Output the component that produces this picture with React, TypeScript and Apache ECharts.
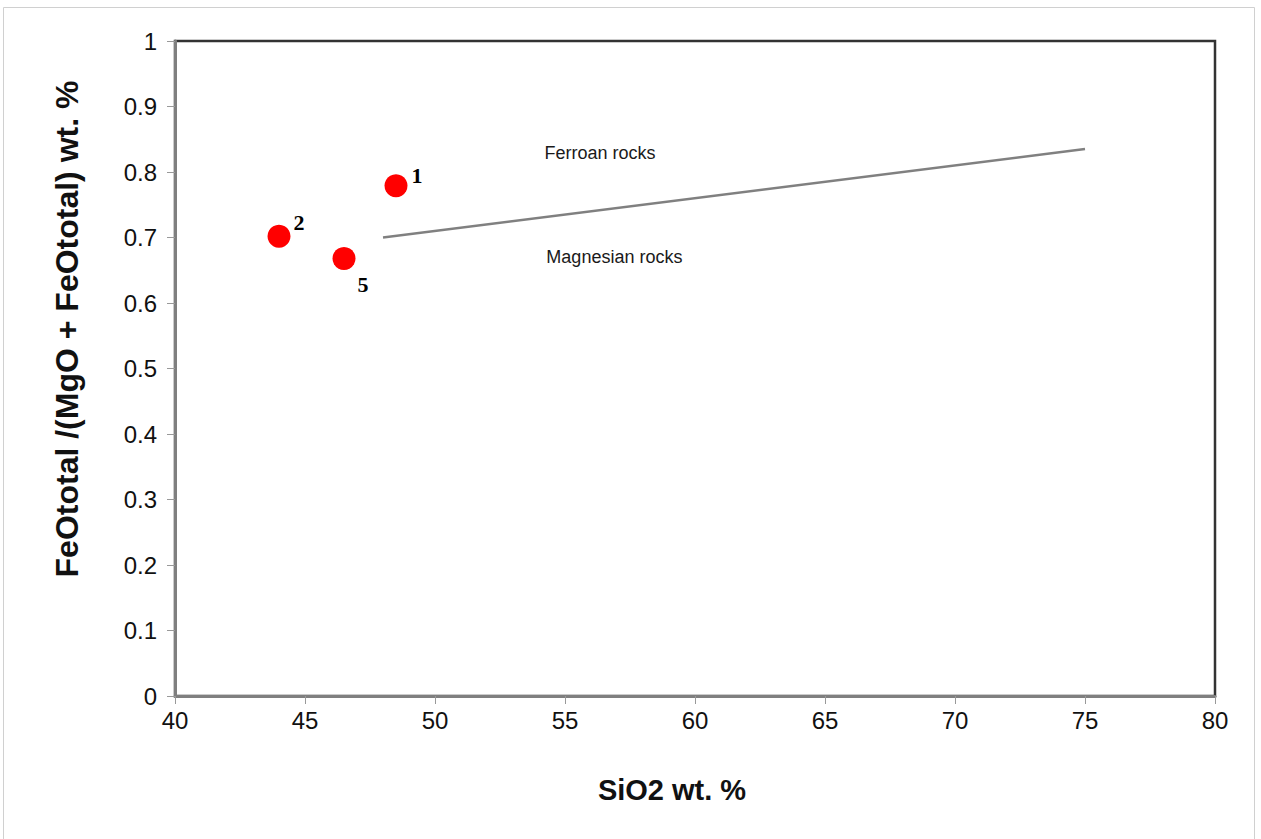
import React, { useEffect, useRef } from "react";
import * as echarts from "echarts";

// Samples: SiO2 wt.% vs FeOtotal/(MgO+FeOtotal)
const sampleNames = ["1", "2", "5"];
const sampleSiO2 = [48.5, 44.0, 46.5];
const sampleFeRatio = [0.779, 0.702, 0.668];

// Ferroan / magnesian boundary
const boundarySiO2 = [48, 75];
const boundaryRatio = [0.7, 0.835];

// Field annotations
const fieldNames = ["Ferroan rocks", "Magnesian rocks"];
const fieldSiO2 = [56.35, 56.9];
const fieldRatio = [0.829, 0.67];

const xTitle = "SiO2 wt. %";
const yTitle = "FeOtotal /(MgO + FeOtotal) wt. %";

const labelOffsets: [number, number][] = [
  [21, -10],
  [20, -14],
  [19, 26],
];

export default function App() {
  const ref = useRef<HTMLDivElement>(null);
  useEffect(() => {
    if (!ref.current) return;
    const chart = echarts.init(ref.current, undefined, { renderer: "svg" });
    const samples = sampleNames.map((n, i) => ({
      value: [sampleSiO2[i], sampleFeRatio[i]],
      name: n,
      label: {
        show: true,
        formatter: n,
        position: "inside",
        offset: labelOffsets[i],
        fontFamily: "Liberation Serif",
        fontWeight: "bold",
        fontSize: 22,
        color: "#000",
        opacity: 1,
      },
    }));
    chart.setOption({
      animation: false,
      backgroundColor: "#fff",
      grid: {
        left: 175,
        top: 41,
        width: 1040,
        height: 655,
        show: true,
        borderColor: "#333",
        borderWidth: 2.5,
      },
      xAxis: {
        type: "value",
        min: 40,
        max: 80,
        interval: 5,
        splitLine: { show: false },
        axisLine: { show: true, onZero: false, lineStyle: { color: "#7f7f7f", width: 3 } },
        axisTick: { show: true, length: 8, lineStyle: { color: "#999", width: 1 } },
        axisLabel: {
          margin: 12,
          fontFamily: "Liberation Sans",
          fontSize: 24,
          color: "#111",
        },
      },
      yAxis: {
        type: "value",
        min: 0,
        max: 1,
        interval: 0.1,
        splitLine: { show: false },
        axisLine: { show: true, onZero: false, lineStyle: { color: "#7f7f7f", width: 3 } },
        axisTick: { show: true, length: 8, lineStyle: { color: "#999", width: 1 } },
        axisLabel: {
          margin: 18,
          fontFamily: "Liberation Sans",
          fontSize: 24,
          color: "#111",
          formatter: (v: number) => String(Math.round(v * 10) / 10),
        },
      },
      graphic: [
        {
          type: "rect",
          shape: { x: 3.5, y: 7.5, width: 1251, height: 840 },
          style: { fill: "none", stroke: "#d0d0d0", lineWidth: 1 },
          silent: true,
        },
        {
          type: "text",
          x: 672,
          y: 790,
          style: {
            text: xTitle,
            fontFamily: "Liberation Sans",
            fontWeight: "bold",
            fontSize: 29,
            fill: "#111",
            align: "center",
            verticalAlign: "middle",
          },
        },
        {
          type: "text",
          x: 67,
          y: 329,
          rotation: Math.PI / 2,
          style: {
            text: yTitle,
            fontFamily: "Liberation Sans",
            fontWeight: "bold",
            fontSize: 32,
            fill: "#111",
            align: "center",
            verticalAlign: "middle",
          },
        },
      ],
      series: [
        {
          type: "line",
          data: boundarySiO2.map((x, i) => [x, boundaryRatio[i]]),
          symbol: "none",
          lineStyle: { color: "#808080", width: 2.5 },
          z: 2,
        },
        {
          type: "scatter",
          data: fieldNames.map((n, i) => ({
            value: [fieldSiO2[i], fieldRatio[i]],
            label: {
              show: true,
              formatter: n,
              position: "inside",
              fontFamily: "Liberation Sans",
              fontSize: 18,
              color: "#1a1a1a",
            },
          })),
          symbolSize: 0,
          itemStyle: { color: "transparent", opacity: 1 },
          z: 3,
        },
        {
          type: "scatter",
          data: samples,
          symbol: "circle",
          symbolSize: 23,
          itemStyle: { color: "#ff0000", opacity: 1 },
          z: 4,
        },
      ],
    });
    return () => chart.dispose();
  }, []);
  return (
    <div
      ref={ref}
      style={{ position: "absolute", left: 0, top: 0, width: 1261, height: 839 }}
    />
  );
}
